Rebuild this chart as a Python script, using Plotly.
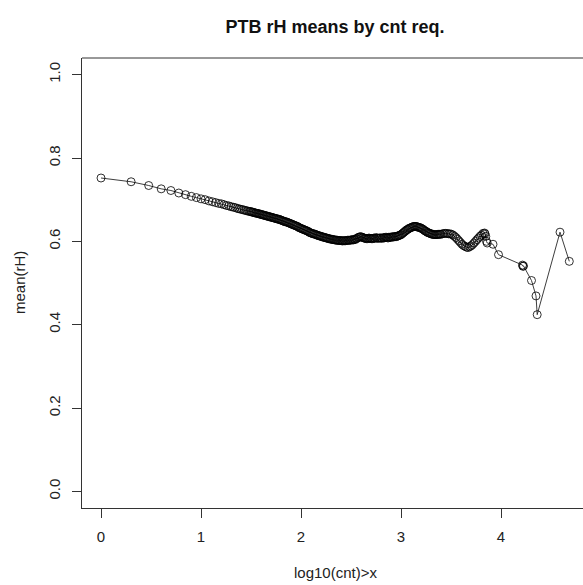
import plotly.graph_objects as go

# x = log10(cnt) threshold, y = mean(rH)
x_head = [0.0, 0.301, 0.477, 0.602, 0.699, 0.778, 0.845, 0.903, 0.954, 1.0,
          1.041, 1.079, 1.114, 1.146, 1.176, 1.204, 1.230, 1.255, 1.279, 1.301,
          1.322, 1.342, 1.362, 1.380, 1.398, 1.415, 1.431, 1.447, 1.462, 1.477]
y_head = [0.752, 0.743, 0.734, 0.726, 0.722, 0.716, 0.712, 0.708, 0.705, 0.702,
          0.700, 0.697, 0.695, 0.693, 0.691, 0.690, 0.688, 0.686, 0.685, 0.683,
          0.682, 0.681, 0.679, 0.678, 0.677, 0.676, 0.675, 0.674, 0.673, 0.672]

x_mid = [1.49, 1.50, 1.51, 1.52, 1.53, 1.54, 1.55, 1.56, 1.57, 1.58, 1.59,
         1.60, 1.61, 1.62, 1.63, 1.64, 1.65, 1.66, 1.67, 1.68, 1.69,
         1.70, 1.71, 1.72, 1.73, 1.74, 1.75, 1.76, 1.77, 1.78, 1.79,
         1.80, 1.81, 1.82, 1.83, 1.84, 1.85, 1.86, 1.87, 1.88, 1.89,
         1.90, 1.91, 1.92, 1.93, 1.94, 1.95, 1.96, 1.97, 1.98, 1.99,
         2.00, 2.01, 2.02, 2.03, 2.04, 2.05, 2.06, 2.07, 2.08, 2.09,
         2.10, 2.11, 2.12, 2.13, 2.14, 2.15, 2.16, 2.17, 2.18, 2.19,
         2.20, 2.21, 2.22, 2.23, 2.24, 2.25, 2.26, 2.27, 2.28, 2.29,
         2.30, 2.31, 2.32, 2.33, 2.34, 2.35, 2.36, 2.37, 2.38, 2.39,
         2.40, 2.41, 2.42, 2.43, 2.44, 2.45, 2.46, 2.47, 2.48, 2.49,
         2.50, 2.51, 2.52, 2.53, 2.54, 2.55, 2.56, 2.57, 2.58, 2.59,
         2.60, 2.61, 2.62, 2.63, 2.64, 2.65, 2.66, 2.67, 2.68, 2.69,
         2.70, 2.71, 2.72, 2.73, 2.74, 2.75, 2.76, 2.77, 2.78, 2.79,
         2.80, 2.81, 2.82, 2.83, 2.84, 2.85, 2.86, 2.87, 2.88, 2.89,
         2.90, 2.91, 2.92, 2.93, 2.94, 2.95, 2.96, 2.97, 2.98, 2.99,
         3.00, 3.01, 3.02, 3.03, 3.04, 3.05, 3.06, 3.07, 3.08, 3.09,
         3.10, 3.11, 3.12, 3.13, 3.14, 3.15, 3.16, 3.17, 3.18, 3.19,
         3.20, 3.21, 3.22, 3.23, 3.24, 3.25, 3.26, 3.27, 3.28, 3.29,
         3.30, 3.31, 3.32, 3.33, 3.34, 3.35, 3.36, 3.37, 3.38, 3.39, 3.40]
y_mid = [0.672, 0.671, 0.670, 0.670, 0.669, 0.668, 0.668, 0.667, 0.667, 0.666, 0.665,
         0.665, 0.664, 0.663, 0.663, 0.662, 0.661, 0.661, 0.660, 0.659, 0.659,
         0.658, 0.657, 0.657, 0.656, 0.655, 0.655, 0.654, 0.653, 0.653, 0.652,
         0.651, 0.650, 0.649, 0.648, 0.647, 0.647, 0.646, 0.645, 0.644, 0.643,
         0.642, 0.641, 0.640, 0.639, 0.638, 0.637, 0.636, 0.635, 0.633, 0.632,
         0.631, 0.630, 0.629, 0.628, 0.627, 0.626, 0.625, 0.624, 0.622, 0.621,
         0.620, 0.619, 0.618, 0.618, 0.617, 0.616, 0.615, 0.614, 0.613, 0.613,
         0.612, 0.611, 0.610, 0.610, 0.609, 0.608, 0.608, 0.607, 0.606, 0.606,
         0.605, 0.605, 0.604, 0.604, 0.603, 0.603, 0.603, 0.602, 0.602, 0.602,
         0.602, 0.601, 0.601, 0.602, 0.601, 0.602, 0.602, 0.603, 0.602, 0.603,
         0.603, 0.604, 0.603, 0.605, 0.604, 0.606, 0.607, 0.609, 0.610, 0.611,
         0.611, 0.610, 0.609, 0.608, 0.607, 0.607, 0.606, 0.607, 0.608, 0.607,
         0.607, 0.606, 0.607, 0.608, 0.607, 0.609, 0.608, 0.607, 0.608, 0.608,
         0.608, 0.607, 0.609, 0.608, 0.609, 0.610, 0.609, 0.608, 0.610, 0.609,
         0.610, 0.611, 0.610, 0.611, 0.612, 0.611, 0.612, 0.613, 0.614, 0.615,
         0.616, 0.618, 0.620, 0.622, 0.624, 0.626, 0.628, 0.629, 0.631, 0.632,
         0.633, 0.634, 0.635, 0.636, 0.636, 0.636, 0.635, 0.634, 0.633, 0.633,
         0.632, 0.630, 0.629, 0.627, 0.625, 0.624, 0.622, 0.621, 0.620, 0.619,
         0.618, 0.617, 0.617, 0.616, 0.616, 0.616, 0.616, 0.617, 0.617, 0.617, 0.617]

x_late = [3.415, 3.43, 3.445, 3.46, 3.475, 3.49, 3.505, 3.52, 3.535, 3.55,
          3.565, 3.58, 3.595, 3.61, 3.625, 3.64, 3.655, 3.67, 3.685, 3.70,
          3.715, 3.73, 3.745, 3.76, 3.775, 3.79, 3.805, 3.82, 3.835]
y_late = [0.618, 0.619, 0.619, 0.619, 0.618, 0.618, 0.617, 0.615, 0.612, 0.609,
          0.605, 0.601, 0.597, 0.593, 0.590, 0.588, 0.586, 0.585, 0.587, 0.589,
          0.592, 0.596, 0.600, 0.604, 0.608, 0.612, 0.615, 0.619, 0.620]

x_tail = [3.84, 3.848, 3.855, 3.862, 3.92, 3.975, 4.215, 4.22, 4.225,
          4.305, 4.35, 4.362, 4.59, 4.683]
y_tail = [0.618, 0.612, 0.600, 0.596, 0.593, 0.568, 0.543, 0.540, 0.541,
          0.506, 0.469, 0.424, 0.622, 0.552]

x_vals = x_head + x_mid + x_late + x_tail
y_vals = y_head + y_mid + y_late + y_tail

x_ticks = [0, 1, 2, 3, 4]
y_ticks = [0.0, 0.2, 0.4, 0.6, 0.8, 1.0]

TITLE = "PTB rH means by cnt req."
XLAB = "log10(cnt)>x"
YLAB = "mean(rH)"

FONT = "Liberation Sans, Arial, Helvetica, sans-serif"
AX = "#333333"

fig = go.Figure()
fig.add_trace(go.Scatter(
    x=x_vals, y=y_vals, mode="lines+markers",
    line=dict(color="rgba(40,40,40,0.9)", width=1),
    marker=dict(symbol="circle-open", size=8, color="rgba(0,0,0,0.8)",
                line=dict(width=1, color="rgba(0,0,0,0.8)")),
    showlegend=False, hoverinfo="skip",
))

W, H = 583, 585
L, R, T, B = 82, 0, 58, 77

fig.update_layout(
    width=W, height=H,
    margin=dict(l=L, r=R, t=T, b=B, pad=0),
    paper_bgcolor="white", plot_bgcolor="white",
    font=dict(family=FONT, size=15, color="#222222"),
    xaxis=dict(range=[-0.19, 4.82], tickvals=x_ticks, ticktext=[str(v) for v in x_ticks],
               showgrid=False, zeroline=False, showline=True, linecolor=AX, linewidth=1,
               ticks="outside", ticklen=9, tickcolor=AX, tickwidth=1,
               tickfont=dict(size=15, family=FONT, color="#222"),
               ticklabelstandoff=6),
    yaxis=dict(range=[-0.04, 1.04], tickvals=y_ticks, ticktext=["%.1f" % v for v in y_ticks],
               showgrid=False, zeroline=False, showline=True, linecolor=AX, linewidth=1,
               ticks="outside", ticklen=9, tickcolor=AX, tickwidth=1, tickangle=-90,
               tickfont=dict(size=15, family=FONT, color="#222"),
               ticklabelstandoff=6),
    title=dict(text="<b>" + TITLE + "</b>", x=335 / W, xref="container", xanchor="center",
               y=1 - 27 / H, yref="container", yanchor="middle",
               font=dict(size=18, family=FONT, color="#111")),
    shapes=[dict(type="line", xref="paper", yref="paper", x0=0, x1=1.02, y0=1, y1=1,
                 line=dict(color=AX, width=1))],
    annotations=[
        dict(text=XLAB, xref="paper", yref="paper", x=(335 - L) / (W - L), y=(508 - 572) / 450,
             showarrow=False, xanchor="center", yanchor="middle",
             font=dict(size=15, family=FONT, color="#222")),
        dict(text=YLAB, xref="paper", yref="paper", x=(19 - L) / (W - L), y=0.5,
             showarrow=False, xanchor="center", yanchor="middle", textangle=-90,
             font=dict(size=15, family=FONT, color="#222")),
    ],
)

fig.write_html("out.html")
